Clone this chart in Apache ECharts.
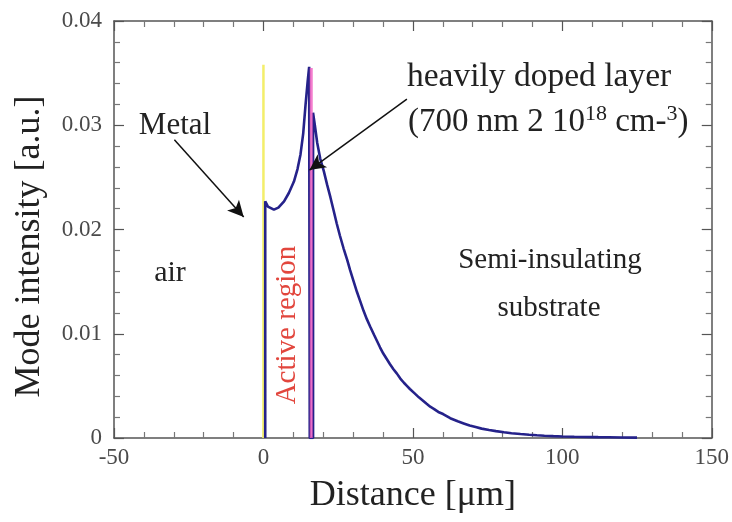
<!DOCTYPE html>
<html>
<head>
<meta charset="utf-8">
<style>
  html, body { margin: 0; padding: 0; background: #ffffff; }
  #chart { width: 732px; height: 522px; }
</style>
<script src="https://cdn.jsdelivr.net/npm/echarts@6/dist/echarts.min.js"></script>
</head>
<body>
<div id="chart"></div>
<script>
// Guided mode profile: distance from the metal (µm) and intensity (a.u.)
const distance = [
  0.6, 0.6, 1.5, 3.5, 5.0, 6.9, 8.5, 10.2, 11.4, 12.4, 13.3, 14.1, 14.8, 15.3,
  15.5, 16.6, 16.6, 17.2, 18.0, 19.0, 20.2, 21.3, 22.4, 23.5, 24.5, 25.6, 26.8,
  28.0, 29.0, 30.2, 31.3, 32.4, 33.5, 34.6, 35.7, 37.0, 38.0, 39.0, 40.1, 41.2,
  42.3, 43.5, 44.6, 45.8, 47.0, 48.0, 49.0, 50.5, 52.0, 53.3, 54.5, 55.8, 57.0,
  58.5, 60.1, 62.5, 65.0, 67.0, 69.0, 71.0, 73.0, 75.5, 77.8, 80.5, 83.0, 86.0,
  88.9, 91.5, 94.0, 97.0, 100.0, 104.0, 108.0, 112.0, 115.5, 120.0, 125.0
];
const intensity = [
  0, 0.0227, 0.0222, 0.0219, 0.0221, 0.0227, 0.0235, 0.0246, 0.0258, 0.0272, 0.0292, 0.0320, 0.0342, 0.0356,
  0, 0, 0.0312, 0.0300, 0.0283, 0.0268, 0.0256, 0.0243, 0.0231, 0.0218, 0.0206, 0.0194, 0.0182,
  0.0171, 0.0161, 0.0150, 0.0140, 0.0131, 0.0122, 0.0114, 0.0107, 0.0099, 0.0093, 0.0087, 0.0081, 0.0076,
  0.0071, 0.0066, 0.0062, 0.0057, 0.0053, 0.0050, 0.0047, 0.0043, 0.0039, 0.0036, 0.0033, 0.0030, 0.0028,
  0.0025, 0.0023, 0.0019, 0.0016, 0.0014, 0.0012, 0.00105, 0.0009, 0.00077, 0.00066, 0.00055, 0.00046, 0.00038,
  0.00031, 0.00026, 0.00022, 0.00018, 0.00015, 0.00012, 0.0001, 0.00008, 0.00007, 0.00005, 0.00004
];

// Layer boundaries: metal surface and heavily doped layer
const metalEdge = [[0, 0], [0, 0.0358]];
const dopedEdge = [[16.0, 0], [16.0, 0.0355]];

// Annotation arrows (data coordinates: start -> tip)
const metalArrow = [[-29.8, 0.0286], [-6.6, 0.0212]];
const dopedArrow = [[48.0, 0.0325], [15.4, 0.0257]];

// Axis ranges and ticks
const xRange = { min: -50, max: 150, step: 50 };
const yRange = { min: 0, max: 0.04, step: 0.01 };

const serif = '"Liberation Serif", "DejaVu Serif", serif';
const axisGray = '#555555';

const curve = distance.map((d, i) => [d, intensity[i]]);

function frameAxis(extra) {
  return Object.assign({
    axisLine: { show: true, onZero: false, lineStyle: { color: axisGray, width: 1.5 } },
    axisTick: { show: true, inside: true, length: 10, lineStyle: { color: axisGray, width: 1.2 } },
    minorTick: { show: true, splitNumber: 5, length: 6, lineStyle: { color: '#777', width: 1.2 } },
    splitLine: { show: false },
    minorSplitLine: { show: false }
  }, extra);
}

const chart = echarts.init(document.getElementById('chart'), null, { renderer: 'canvas' });

chart.setOption({
  backgroundColor: '#ffffff',
  animation: false,
  grid: { left: 114, right: 20, top: 21, bottom: 84 },
  xAxis: [
    frameAxis({
      type: 'value', position: 'bottom',
      min: xRange.min, max: xRange.max, interval: xRange.step,
      name: 'Distance [\u03bcm]', nameLocation: 'middle', nameGap: 40,
      nameTextStyle: { fontFamily: serif, fontSize: 36, color: '#222' },
      axisLabel: { margin: 8, fontFamily: serif, fontSize: 23, color: '#4a4a4a' }
    }),
    frameAxis({
      type: 'value', position: 'top',
      min: xRange.min, max: xRange.max, interval: xRange.step,
      axisLabel: { show: false }
    })
  ],
  yAxis: [
    frameAxis({
      type: 'value', position: 'left',
      min: yRange.min, max: yRange.max, interval: yRange.step,
      name: 'Mode intensity [a.u.]', nameLocation: 'middle', nameGap: 66,
      nameTextStyle: { fontFamily: serif, fontSize: 36, color: '#222', padding: [0, 34, 0, 0] },
      axisLabel: {
        margin: 12, fontFamily: serif, fontSize: 23, color: '#4a4a4a',
        formatter: v => (v === 0 ? '0' : v.toFixed(2))
      }
    }),
    frameAxis({
      type: 'value', position: 'right',
      min: yRange.min, max: yRange.max, interval: yRange.step,
      axisLabel: { show: false }
    })
  ],
  series: [
    {
      name: 'metal', type: 'line', data: metalEdge, symbol: 'none', silent: true,
      lineStyle: { color: '#f3ee6a', width: 2.5 }, z: 2
    },
    {
      name: 'mode', type: 'line', data: curve, symbol: 'none', smooth: false,
      lineStyle: { color: '#25228a', width: 2.6 }, z: 3,
      markLine: {
        silent: true, symbol: ['none', 'arrow'], symbolSize: [12, 16],
        label: { show: false },
        lineStyle: { color: '#111', width: 1.5, type: 'solid' },
        data: [
          [{ coord: metalArrow[0] }, { coord: metalArrow[1] }],
          [{ coord: dopedArrow[0] }, { coord: dopedArrow[1] }]
        ]
      }
    },
    {
      name: 'doped', type: 'line', data: dopedEdge, symbol: 'none', silent: true,
      lineStyle: { color: '#f05cc0', width: 3, opacity: 0.8 }, z: 4
    }
  ],
  graphic: [
    { type: 'text', x: 175, y: 126, style: { text: 'Metal', font: '31px ' + serif, fill: '#222', align: 'center', verticalAlign: 'middle' } },
    { type: 'text', x: 170, y: 273, style: { text: 'air', font: '30px ' + serif, fill: '#222', align: 'center', verticalAlign: 'middle' } },
    { type: 'text', x: 407, y: 77, style: { text: 'heavily doped layer', font: '33.5px ' + serif, fill: '#222', align: 'left', verticalAlign: 'middle' } },
    {
      type: 'text', x: 408, y: 121,
      style: {
        text: '{a|(700 nm 2 10}{s|18}{a| cm-}{s|3}{a|)}',
        align: 'left', verticalAlign: 'middle',
        rich: {
          a: { fontFamily: serif, fontSize: 33, fill: '#222', lineHeight: 36, verticalAlign: 'bottom' },
          s: { fontFamily: serif, fontSize: 22, fill: '#222', lineHeight: 36, verticalAlign: 'top' }
        }
      }
    },
    { type: 'text', x: 550, y: 260, style: { text: 'Semi-insulating', font: '29px ' + serif, fill: '#222', align: 'center', verticalAlign: 'middle' } },
    { type: 'text', x: 549, y: 308, style: { text: 'substrate', font: '29px ' + serif, fill: '#222', align: 'center', verticalAlign: 'middle' } },
    {
      type: 'text', x: 287, y: 325, rotation: Math.PI / 2,
      style: { text: 'Active region', font: '29px ' + serif, fill: '#e2463d', align: 'center', verticalAlign: 'middle' }
    }
  ]
});
</script>
</body>
</html>
